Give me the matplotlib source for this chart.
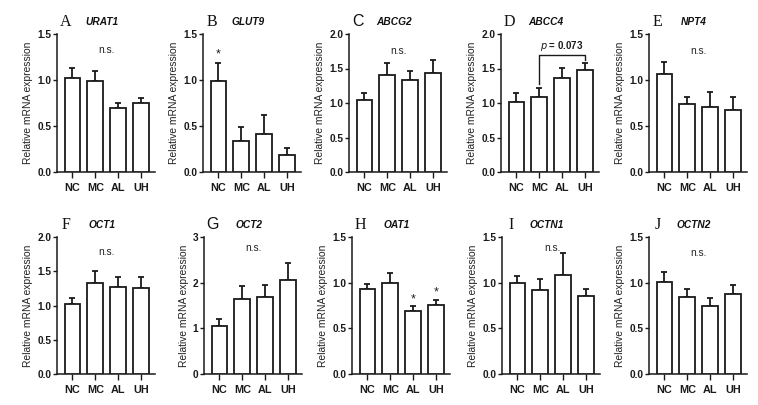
import matplotlib
matplotlib.use("Agg")
import matplotlib.pyplot as plt

groups = ["NC", "MC", "AL", "UH"]

letters = ["A", "B", "C", "D", "E", "F", "G", "H", "I", "J"]
genes = ["URAT1", "GLUT9", "ABCG2", "ABCC4", "NPT4", "OCT1", "OCT2", "OAT1", "OCTN1", "OCTN2"]

urat1_mean = [1.02, 0.99, 0.70, 0.75]
urat1_err = [0.11, 0.11, 0.05, 0.05]
glut9_mean = [0.99, 0.34, 0.41, 0.18]
glut9_err = [0.20, 0.15, 0.215, 0.08]
abcg2_mean = [1.04, 1.41, 1.34, 1.43]
abcg2_err = [0.10, 0.17, 0.12, 0.19]
abcc4_mean = [1.02, 1.09, 1.36, 1.48]
abcc4_err = [0.12, 0.13, 0.15, 0.10]
npt4_mean = [1.06, 0.74, 0.71, 0.67]
npt4_err = [0.14, 0.08, 0.16, 0.15]
oct1_mean = [1.02, 1.33, 1.27, 1.25]
oct1_err = [0.09, 0.17, 0.15, 0.17]
oct2_mean = [1.06, 1.65, 1.68, 2.05]
oct2_err = [0.15, 0.27, 0.26, 0.39]
oat1_mean = [0.93, 1.00, 0.69, 0.755]
oat1_err = [0.06, 0.11, 0.06, 0.055]
octn1_mean = [1.00, 0.92, 1.08, 0.85]
octn1_err = [0.07, 0.12, 0.25, 0.08]
octn2_mean = [1.01, 0.84, 0.75, 0.88]
octn2_err = [0.11, 0.09, 0.08, 0.09]

means = [urat1_mean, glut9_mean, abcg2_mean, abcc4_mean, npt4_mean,
         oct1_mean, oct2_mean, oat1_mean, octn1_mean, octn2_mean]
errs = [urat1_err, glut9_err, abcg2_err, abcc4_err, npt4_err,
        oct1_err, oct2_err, oat1_err, octn1_err, octn2_err]
ymax = [1.5, 1.5, 2.0, 2.0, 1.5, 2.0, 3.0, 1.5, 1.5, 1.5]
yticks = [[0.0, 0.5, 1.0, 1.5], [0.0, 0.5, 1.0, 1.5], [0.0, 0.5, 1.0, 1.5, 2.0],
          [0.0, 0.5, 1.0, 1.5, 2.0], [0.0, 0.5, 1.0, 1.5], [0.0, 0.5, 1.0, 1.5, 2.0],
          [0, 1, 2, 3], [0.0, 0.5, 1.0, 1.5], [0.0, 0.5, 1.0, 1.5], [0.0, 0.5, 1.0, 1.5]]
ytick_fmt = ["%.1f"] * 6 + ["%d"] + ["%.1f"] * 3

# annotations: (panel, x, y)
ns_marks = [(0, 1.5, 1.33), (2, 1.5, 1.75), (4, 1.5, 1.31), (5, 1.5, 1.78),
            (6, 1.5, 2.75), (8, 1.55, 1.38), (9, 1.5, 1.32)]
star_marks = [(1, 0, 1.28), (7, 2, 0.82), (7, 3, 0.89)]
serif_letter = [True, True, False, True, True, True, False, True, True, True]

W, H = 758, 405
fig = plt.figure(figsize=(W / 100, H / 100), dpi=100)
fig.patch.set_facecolor("white")

lefts = [57, 203, 349, 501, 649, 57, 204, 352, 502, 649]
tops_row = [34, 237]
bottoms_row = [172, 374]
axw = 98

txt_color = "#222222"
for i in range(10):
    row = 0 if i < 5 else 1
    l = lefts[i]
    b = H - bottoms_row[row]
    h = bottoms_row[row] - tops_row[row]
    ax = fig.add_axes([l / W, b / H, axw / W, h / H])
    x = list(range(4))
    ax.bar(x, means[i], width=0.7, color="white", edgecolor="#1a1a1a",
           linewidth=1.3, zorder=3)
    ax.errorbar(x, means[i], yerr=[[0, 0, 0, 0], errs[i]], fmt="none",
                ecolor="#1a1a1a", elinewidth=1.3, capsize=2.2, capthick=1.3,
                zorder=2)
    ax.set_xlim(-0.68, 3.62)
    ax.set_ylim(0, ymax[i])
    ax.set_yticks(yticks[i])
    ax.set_yticklabels([ytick_fmt[i] % v for v in yticks[i]])
    ax.set_xticks(x)
    ax.set_xticklabels(groups)
    for s in ["top", "right"]:
        ax.spines[s].set_visible(False)
    for s in ["left", "bottom"]:
        ax.spines[s].set_linewidth(1.1)
        ax.spines[s].set_color("#1a1a1a")
    ax.tick_params(axis="y", length=3, width=1.0, pad=1, labelsize=7.3,
                   colors="#1a1a1a")
    ax.tick_params(axis="x", length=4, width=1.0, pad=4, labelsize=7.8,
                   colors="#1a1a1a")
    for lab in ax.get_yticklabels() + ax.get_xticklabels():
        lab.set_fontweight("bold")
        lab.set_fontfamily("Liberation Sans")
    ax.set_ylabel("Relative mRNA expression", fontsize=7.4,
                  family="Liberation Sans", color=txt_color, labelpad=3)
    fam = "Liberation Serif" if serif_letter[i] else "Liberation Sans"
    ax.text(0.09, 1.09, letters[i], transform=ax.transAxes, fontsize=11.5,
            family=fam, ha="center", va="center", color="#111111")
    ax.text(0.46, 1.09, genes[i], transform=ax.transAxes, fontsize=7.3,
            family="Liberation Sans", style="italic", fontweight="bold",
            ha="center", va="center", color="#111111")

    for (p, xx, yy) in ns_marks:
        if p == i:
            ax.text(xx, yy, "n.s.", fontsize=7.3, family="Liberation Sans",
                    ha="center", va="center", color=txt_color)
    for (p, xx, yy) in star_marks:
        if p == i:
            ax.text(xx, yy, "*", fontsize=9, family="Liberation Sans",
                    ha="center", va="center", color=txt_color)
    if i == 3:
        ax.plot([1, 1, 3, 3], [1.27, 1.70, 1.70, 1.62], color="#1a1a1a",
                lw=1.0, clip_on=False)
        ax.text(2, 1.83, r"$\it{p}$ = 0.073", fontsize=7, fontweight="bold",
                family="Liberation Sans", ha="center", va="center",
                color="#1a1a1a")

fig.savefig("out.png", dpi=100, facecolor="white")
